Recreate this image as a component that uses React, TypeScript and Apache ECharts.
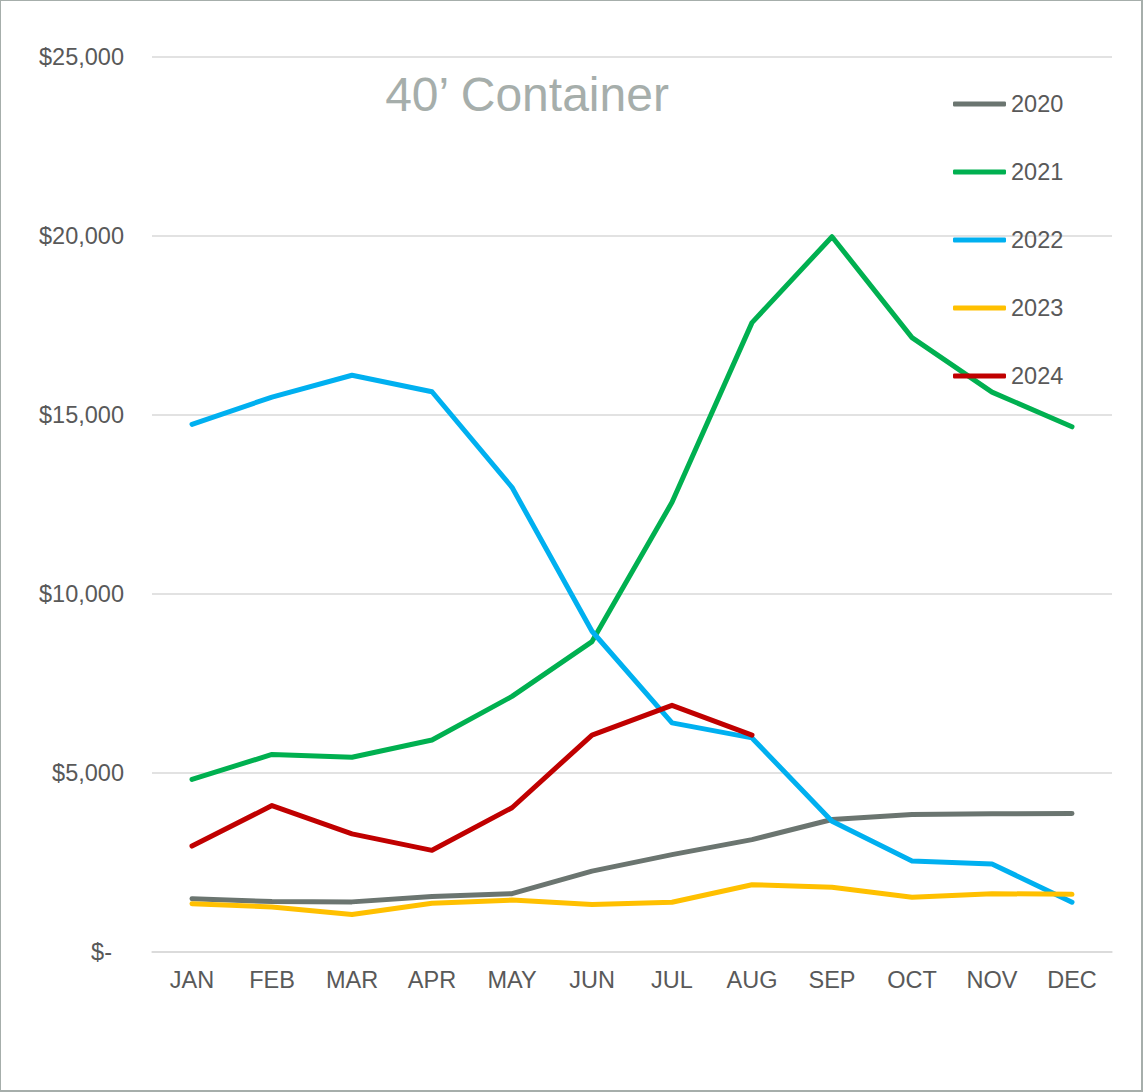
import React, { useEffect, useRef } from "react";
import * as echarts from "echarts";

const months = ["JAN", "FEB", "MAR", "APR", "MAY", "JUN", "JUL", "AUG", "SEP", "OCT", "NOV", "DEC"];
const years = ["2020", "2021", "2022", "2023", "2024"];
const colors = ["#6b7570", "#00b050", "#00b0f0", "#ffc000", "#c00000"];

const y2020 = [1490, 1410, 1400, 1550, 1630, 2260, 2720, 3140, 3700, 3840, 3860, 3870];
const y2021 = [4820, 5520, 5440, 5920, 7140, 8670, 12560, 17580, 19980, 17160, 15640, 14670];
const y2022 = [14740, 15500, 16110, 15650, 12980, 8960, 6400, 5980, 3650, 2540, 2460, 1390];
const y2023 = [1350, 1260, 1050, 1360, 1450, 1330, 1390, 1880, 1810, 1530, 1630, 1610];
const y2024 = [2960, 4090, 3300, 2840, 4030, 6060, 6890, 6060, null, null, null, null];

const seriesData = [y2020, y2021, y2022, y2023, y2024];
const titleText = "40’ Container";

export default function App() {
  const ref = useRef<HTMLDivElement>(null);
  useEffect(() => {
    if (!ref.current) return;
    const chart = echarts.init(ref.current, null, { renderer: "svg" });
    const font = "Liberation Sans, Arial, sans-serif";
    chart.setOption({
      animation: false,
      backgroundColor: "#ffffff",
      textStyle: { fontFamily: font },
      grid: { left: 151, right: 29, top: 56, bottom: 138, containLabel: false },
      graphic: [
        {
          type: "text",
          x: 526,
          y: 93,
          style: {
            text: titleText,
            textAlign: "center",
            textVerticalAlign: "middle",
            fontSize: 48,
            fontFamily: font,
            fill: "#a6aeab",
          },
        },
      ],
      legend: {
        orient: "vertical",
        left: 952,
        top: 91,
        padding: 0,
        itemWidth: 53,
        itemHeight: 5,
        itemGap: 44,
        icon: "roundRect",
        textStyle: { fontSize: 23.5, color: "#595959", fontFamily: font },
        data: years,
      },
      xAxis: {
        type: "category",
        data: months,
        boundaryGap: true,
        axisLine: { show: true, lineStyle: { color: "#d9d9d9", width: 1.5 } },
        axisTick: { show: false },
        axisLabel: { fontSize: 23.5, color: "#595959", margin: 16, fontFamily: font },
      },
      yAxis: {
        type: "value",
        min: 0,
        max: 25000,
        interval: 5000,
        axisLine: { show: false },
        axisTick: { show: false },
        splitLine: { lineStyle: { color: "#d9d9d9", width: 1.5 } },
        axisLabel: {
          fontSize: 23.5,
          color: "#595959",
          margin: 28,
          fontFamily: font,
          formatter: (v: number) =>
            v === 0 ? "{z|$-}" : "$" + v.toLocaleString("en-US"),
          rich: {
            z: { fontSize: 23.5, color: "#595959", padding: [0, 12, 0, 0], fontFamily: font },
          },
        },
      },
      series: years.map((y, i) => ({
        name: y,
        type: "line",
        data: seriesData[i],
        symbol: "none",
        showSymbol: false,
        connectNulls: false,
        color: colors[i],
        itemStyle: { color: colors[i] },
        lineStyle: { color: colors[i], width: 5, cap: "round", join: "round" },
        z: 2 + i,
      })),
    });
    return () => chart.dispose();
  }, []);
  return (
    <div
      ref={ref}
      style={{
        position: "absolute",
        left: 0,
        top: 0,
        width: 1143,
        height: 1092,
        boxSizing: "border-box",
        borderTop: "1px solid #a6aeab",
        borderLeft: "1px solid #a6aeab",
        borderRight: "2px solid #a6aeab",
        borderBottom: "2px solid #a6aeab",
      }}
    />
  );
}
